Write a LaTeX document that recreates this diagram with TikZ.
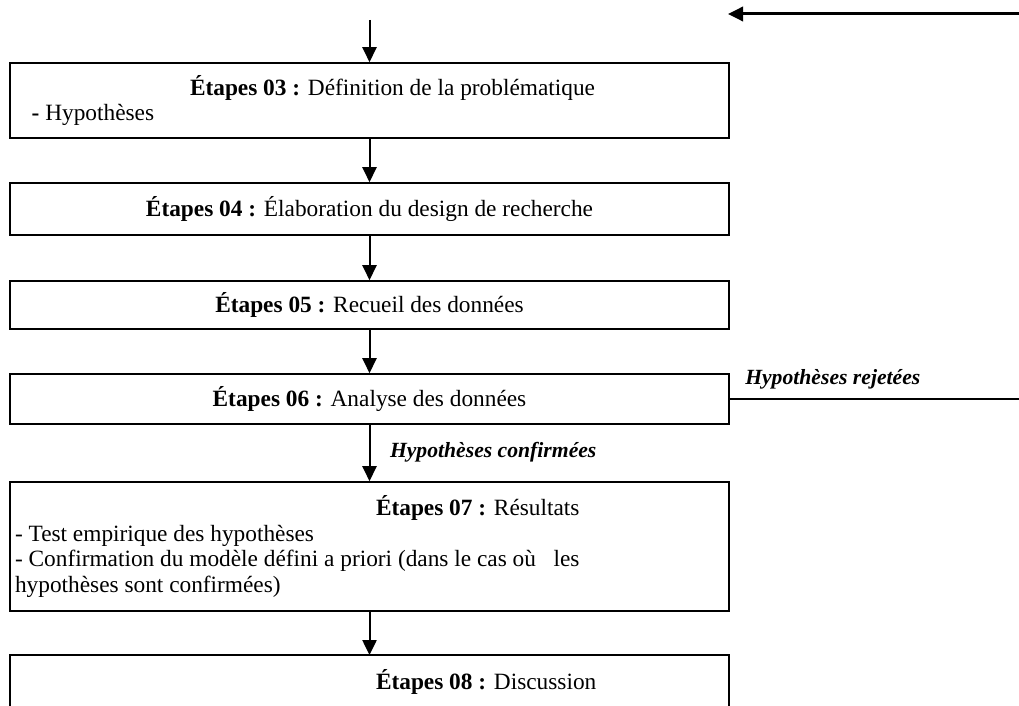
\documentclass[tikz,border=0pt]{standalone}
\usepackage{fontspec}
\setmainfont{Liberation Serif}
\usetikzlibrary{arrows.meta,positioning}

% one step of the research process
\tikzset{
    etape/.style={draw, line width=1pt, minimum width=431.4pt, inner xsep=3pt, inner ysep=2pt,
        align=center, font=\fontsize{14}{15.4}\selectfont},
    fleche/.style={-{Triangle[length=9pt,width=8.5pt]}, line width=1.2pt},
    verdict/.style={inner sep=0, font=\fontsize{13}{15}\selectfont\bfseries\itshape},
}
% a line set flush left inside a step
\newcommand{\ligne}[1]{\makebox[425.4pt][l]{#1}}

\begin{document}
\begin{tikzpicture}[x=0.6pt, y=-0.6pt]
    \useasboundingbox (0,0) rectangle (1019,706);

    % Steps
    \node[etape, minimum height=45pt] (s3) at (369.5,100.5) {\ligne{\hspace*{105pt}\textbf{Étapes 03 :} Définition de la problématique}\\
        \ligne{\hspace*{10pt}\textbf{-} Hypothèses}};
    \node[etape, minimum height=31.2pt, below=26pt of s3] (s4) {\textbf{Étapes 04 :} Élaboration du design de recherche};
    \node[etape, minimum height=28.8pt, below=26.6pt of s4] (s5) {\textbf{Étapes 05 :} Recueil des données};
    \node[etape, minimum height=30pt, below=26pt of s5] (s6) {\textbf{Étapes 06 :} Analyse des données};
    \node[etape, minimum height=77.4pt, below=33.8pt of s6] (s7) {\ligne{\hspace*{216.6pt}\textbf{Étapes 07 :} Résultats}\\
        \ligne{- Test empirique des hypothèses}\\
        \ligne{- Confirmation du modèle défini a priori (dans le cas où \ \ les}\\
        \ligne{hypothèses sont confirmées)}};
    % last step runs off the page, so no bottom edge
    \node[etape, draw=none, outer sep=0pt, minimum height=32.4pt, below=25.9pt of s7] (s8) {\ligne{\hspace*{216.6pt}\textbf{Étapes 08 :} Discussion}};
    \draw[line width=1pt] (s8.south west) -- (s8.north west) -- (s8.north east) -- (s8.south east);

    % Flow
    \coordinate (entree) at (369.5,20);
    \draw[fleche] (entree) -- (s3);
    \draw[fleche] (s3) -- (s4);
    \draw[fleche] (s4) -- (s5);
    \draw[fleche] (s5) -- (s6);
    \draw[fleche] (s6) -- (s7) node[verdict, pos=0.5, anchor=base west, xshift=11.7pt, yshift=-3pt] (conf) {Hypothèses confirmées};
    \draw[fleche] (s7) -- (s8);

    % Loop back
    \coordinate (rejet) at ([xshift=174pt]s6.east);
    \draw[line width=1.7pt] (s6.east) -- (rejet) node[verdict, pos=0, anchor=base west, xshift=8.4pt, yshift=9pt] (rej) {Hypothèses rejetées};
    \coordinate (retour) at (1019,14);
    \coordinate (retourfin) at (728,14);
    \draw[fleche, line width=1.8pt] (retour) -- (retourfin);
\end{tikzpicture}
\end{document}
